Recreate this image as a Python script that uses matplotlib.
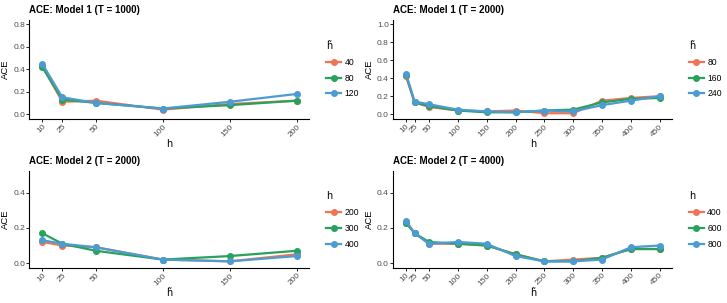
import matplotlib.pyplot as plt
import numpy as np

plt.rcParams['font.family'] = ['Liberation Sans', 'DejaVu Sans']

cols = ['#EE7357', '#27A25C', '#4C9BD2']

h_short = [10, 25, 50, 100, 150, 200]
h_long = [10, 25, 50, 100, 150, 200, 250, 300, 350, 400, 450]

# Model 1, T = 1000 (legend: h tilde)
m1_t1000_groups = ['40', '80', '120']
m1_t1000 = [
    [0.43, 0.11, 0.12, 0.04, 0.09, 0.12],
    [0.42, 0.13, 0.10, 0.05, 0.08, 0.12],
    [0.45, 0.15, 0.10, 0.05, 0.11, 0.18],
]

# Model 1, T = 2000
m1_t2000_groups = ['80', '160', '240']
m1_t2000 = [
    [0.42, 0.13, 0.08, 0.04, 0.03, 0.04, 0.01, 0.01, 0.15, 0.18, 0.20],
    [0.44, 0.13, 0.09, 0.04, 0.02, 0.02, 0.04, 0.05, 0.13, 0.17, 0.18],
    [0.45, 0.14, 0.11, 0.05, 0.03, 0.02, 0.04, 0.03, 0.10, 0.15, 0.20],
]

# Model 2, T = 2000 (legend: h)
m2_t2000_groups = ['200', '300', '400']
m2_t2000 = [
    [0.12, 0.10, 0.09, 0.02, 0.01, 0.05],
    [0.17, 0.11, 0.07, 0.02, 0.04, 0.07],
    [0.13, 0.11, 0.09, 0.02, 0.01, 0.04],
]

# Model 2, T = 4000
m2_t4000_groups = ['400', '600', '800']
m2_t4000 = [
    [0.23, 0.17, 0.11, 0.11, 0.10, 0.05, 0.01, 0.02, 0.03, 0.08, 0.08],
    [0.23, 0.17, 0.12, 0.11, 0.10, 0.05, 0.01, 0.01, 0.03, 0.08, 0.08],
    [0.24, 0.17, 0.11, 0.12, 0.11, 0.04, 0.01, 0.01, 0.02, 0.09, 0.10],
]

W, H = 727, 303
fig = plt.figure(figsize=(W / 100, H / 100), dpi=100)

def px_axes(l, r, t, b):
    return fig.add_axes([l / W, 1 - b / H, (r - l) / W, (b - t) / H])

htil = 'h\u0303'
panels = [
    (29.5, 309.5, 20, 118.6, 'ACE: Model 1 (T = 1000)', h_short, m1_t1000, m1_t1000_groups, 0.8, 'h', htil),
    (393.3, 672.3, 20, 118.6, 'ACE: Model 1 (T = 2000)', h_long, m1_t2000, m1_t2000_groups, 1.0, 'h', htil),
    (29.5, 309.5, 170.7, 267.5, 'ACE: Model 2 (T = 2000)', h_short, m2_t2000, m2_t2000_groups, 0.5, htil, 'h'),
    (393.3, 672.3, 170.7, 267.5, 'ACE: Model 2 (T = 4000)', h_long, m2_t4000, m2_t4000_groups, 0.5, htil, 'h'),
]

for l, r, t, b, title, xs, series, groups, ymax, xlab, legtitle in panels:
    ax = px_axes(l, r, t, b)
    for vals, g, c in zip(series, groups, cols):
        ax.plot(xs, vals, color=c, lw=1.6, marker='o', ms=4, label=g)
    xr = xs[-1] - xs[0]
    ax.set_xlim(xs[0] - 0.05 * xr, xs[-1] + 0.05 * xr)
    ax.set_ylim(-0.05 * ymax, ymax * 1.05)
    ax.set_yticks(np.arange(0, ymax + 1e-9, 0.2))
    ax.set_xticks(xs)
    ax.set_xticklabels([str(x) for x in xs], rotation=45, ha='right', rotation_mode='anchor')
    ax.tick_params(labelsize=6, labelcolor='#4D4D4D', length=2, width=0.6, pad=1.2)
    for s in ['top', 'right']:
        ax.spines[s].set_visible(False)
    for s in ['left', 'bottom']:
        ax.spines[s].set_linewidth(0.8)
    ax.set_title(title, loc='left', fontsize=7, fontweight='bold', pad=5)
    ax.set_xlabel(xlab, fontsize=7, labelpad=0.5, family=['DejaVu Sans'])
    ax.set_ylabel('ACE', fontsize=6.8, labelpad=2.5)
    leg = ax.legend(title=legtitle, loc='upper left', bbox_to_anchor=((r + 9) / W, 1 - (t + 13) / H),
                    bbox_transform=fig.transFigure, frameon=False, fontsize=6.2, title_fontsize=7,
                    handlelength=1.7, handletextpad=0.4, labelspacing=0.8)
    leg.get_title().set_family(['DejaVu Sans'])
    leg._legend_box.align = 'left'

fig.savefig('out.png', dpi=100)
